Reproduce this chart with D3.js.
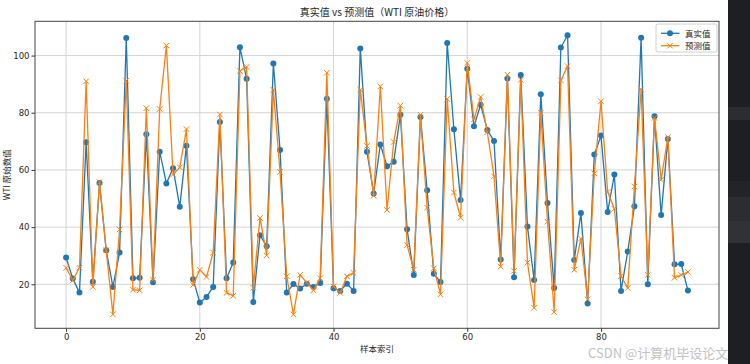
<!DOCTYPE html>
<html>
<head>
<meta charset="utf-8">
<script src="https://cdn.jsdelivr.net/npm/d3@7"></script>
<style>
  html, body { margin: 0; padding: 0; background: #fff; }
  svg { display: block; }
  text { font-family: "Noto Sans CJK SC", "DejaVu Sans", sans-serif; fill: #262626; }
  .tick text { font-family: "DejaVu Sans", sans-serif; }
</style>
</head>
<body>
<svg id="chart" width="750" height="364"></svg>
<script>
var actualValues = [29.4, 22.0, 17.1, 69.7, 20.9, 55.4, 31.9, 19.1, 31.1, 106.1,
  22.1, 22.3, 72.5, 20.7, 66.4, 55.3, 60.6, 47.1, 68.5, 21.8,
  13.6, 15.6, 19.1, 76.8, 22.1, 27.6, 102.9, 91.9, 13.8, 37.2,
  33.3, 97.2, 67.0, 17.1, 20.1, 18.5, 20.2, 19.1, 20.5, 84.9,
  18.6, 17.7, 20.2, 17.7, 102.5, 66.4, 51.8, 68.9, 61.3, 62.9,
  79.3, 39.3, 23.3, 78.5, 52.9, 23.7, 20.8, 104.4, 74.2, 49.5,
  95.4, 75.3, 82.8, 74.0, 70.1, 28.7, 92.0, 22.5, 93.2, 40.2,
  21.5, 86.5, 48.4, 18.7, 102.8, 107.1, 28.5, 44.9, 13.3, 65.4,
  72.0, 45.3, 58.4, 17.7, 31.5, 47.3, 106.2, 20.0, 78.8, 44.2,
  70.8, 27.0, 27.1, 17.8];

var predictedValues = [25.8, 21.4, 25.8, 91.0, 19.1, 55.7, 31.9, 9.5, 39.2, 91.2,
  18.1, 17.9, 81.6, 21.6, 81.3, 103.5, 58.4, 60.9, 74.3, 19.8,
  25.1, 22.6, 31.1, 79.4, 17.0, 16.0, 94.6, 96.0, 18.8, 43.2,
  30.1, 88.0, 59.3, 22.8, 9.5, 23.3, 20.6, 17.9, 22.1, 94.0,
  19.3, 17.0, 22.8, 24.0, 88.1, 68.4, 51.0, 89.2, 46.0, 69.8,
  82.5, 33.7, 25.1, 79.3, 46.8, 25.6, 16.5, 84.8, 52.1, 43.3,
  97.4, 77.7, 85.5, 73.2, 57.8, 26.2, 93.3, 24.7, 91.5, 27.6,
  11.8, 80.0, 41.9, 10.3, 91.3, 96.3, 25.1, 36.0, 14.7, 58.8,
  84.0, 52.3, 46.4, 22.9, 18.7, 54.2, 88.2, 23.3, 78.2, 56.6,
  71.5, 22.3, 23.3, 24.3];

var seriesNames = ['真实值', '预测值'];
var xTicks = [0, 20, 40, 60, 80];
var yTicks = [20, 40, 60, 80, 100];
var chartTitle = '真实值 vs 预测值（WTI 原油价格）';
var xLabel = '样本索引';
var yLabel = 'WTI 原始数值';
var watermark = 'CSDN @计算机毕设论文';

var colors = ['#1f77b4', '#ff7f0e'];
var margin = { left: 35, right: 719, top: 21.3, bottom: 328.3 };

var svg = d3.select('#chart');

// matplotlib style 5% margins on both axes
var n = actualValues.length;
var xPad = (n - 1) * 0.05;
var allVals = actualValues.concat(predictedValues);
var yMin = d3.min(allVals), yMax = d3.max(allVals);
var yPad = (yMax - yMin) * 0.05;

var x = d3.scaleLinear()
  .domain([-xPad, n - 1 + xPad])
  .range([margin.left, margin.right]);

var y = d3.scaleLinear()
  .domain([yMin - yPad, yMax + yPad])
  .range([margin.bottom, margin.top]);

// grid
var grid = svg.append('g');
grid.selectAll('.gx')
  .data(xTicks)
  .enter().append('line')
  .attr('x1', function(d) { return x(d); })
  .attr('x2', function(d) { return x(d); })
  .attr('y1', margin.top)
  .attr('y2', margin.bottom)
  .attr('stroke', '#d4d4d4')
  .attr('stroke-width', 1);
grid.selectAll('.gy')
  .data(yTicks)
  .enter().append('line')
  .attr('x1', margin.left)
  .attr('x2', margin.right)
  .attr('y1', function(d) { return y(d); })
  .attr('y2', function(d) { return y(d); })
  .attr('stroke', '#d4d4d4')
  .attr('stroke-width', 1);

// series
var series = [actualValues, predictedValues];
var line = d3.line()
  .x(function(d, i) { return x(i); })
  .y(function(d) { return y(d); });

series.forEach(function(vals, k) {
  var g = svg.append('g');
  g.append('path')
    .datum(vals)
    .attr('d', line)
    .attr('fill', 'none')
    .attr('stroke', colors[k])
    .attr('stroke-width', 1.3)
    .attr('stroke-linejoin', 'round');

  if (k == 0) {
    g.selectAll('circle')
      .data(vals)
      .enter().append('circle')
      .attr('cx', function(d, i) { return x(i); })
      .attr('cy', function(d) { return y(d); })
      .attr('r', 3)
      .attr('fill', colors[k]);
  } else {
    g.selectAll('path.mk')
      .data(vals)
      .enter().append('path')
      .attr('class', 'mk')
      .attr('d', d3.symbol().type(d3.symbolX).size(22))
      .attr('transform', function(d, i) { return 'translate(' + x(i) + ',' + y(d) + ')'; })
      .attr('fill', 'none')
      .attr('stroke', colors[k])
      .attr('stroke-width', 1);
  }
});

// axes
var xAxis = svg.append('g')
  .attr('transform', 'translate(0,' + margin.bottom + ')')
  .call(d3.axisBottom(x).tickValues(xTicks).tickSize(3.5).tickPadding(2).tickFormat(d3.format('d')));
var yAxis = svg.append('g')
  .attr('transform', 'translate(' + margin.left + ',0)')
  .call(d3.axisLeft(y).tickValues(yTicks).tickSize(3.5).tickPadding(2).tickFormat(d3.format('d')));

[xAxis, yAxis].forEach(function(a) {
  a.select('.domain').remove();
  a.selectAll('.tick line').attr('stroke', '#333');
  a.selectAll('.tick text').attr('font-size', 8.5).attr('fill', '#262626');
});

svg.append('rect')
  .attr('x', margin.left)
  .attr('y', margin.top)
  .attr('width', margin.right - margin.left)
  .attr('height', margin.bottom - margin.top)
  .attr('fill', 'none')
  .attr('stroke', '#444')
  .attr('stroke-width', 1);

// labels
svg.append('text')
  .attr('x', (margin.left + margin.right) / 2)
  .attr('y', 16)
  .attr('text-anchor', 'middle')
  .attr('font-size', 10)
  .text(chartTitle);

svg.append('text')
  .attr('x', (margin.left + margin.right) / 2)
  .attr('y', 352)
  .attr('text-anchor', 'middle')
  .attr('font-size', 8.5)
  .text(xLabel);

svg.append('text')
  .attr('transform', 'translate(10,' + (margin.top + margin.bottom) / 2 + ') rotate(-90)')
  .attr('text-anchor', 'middle')
  .attr('font-size', 8.5)
  .text(yLabel);

// legend
var legend = svg.append('g').attr('transform', 'translate(656,24)');
legend.append('rect')
  .attr('width', 61)
  .attr('height', 28)
  .attr('rx', 2)
  .attr('fill', '#fff')
  .attr('fill-opacity', 0.8)
  .attr('stroke', '#d0d0d0')
  .attr('stroke-width', 1);

seriesNames.forEach(function(name, k) {
  var ly = 9.3 + k * 12.4;
  var row = legend.append('g');
  row.append('line')
    .attr('x1', 5).attr('x2', 23.5)
    .attr('y1', ly).attr('y2', ly)
    .attr('stroke', colors[k])
    .attr('stroke-width', 1.3);
  if (k == 0) {
    row.append('circle').attr('cx', 14).attr('cy', ly).attr('r', 3).attr('fill', colors[k]);
  } else {
    row.append('path')
      .attr('d', d3.symbol().type(d3.symbolX).size(22))
      .attr('transform', 'translate(14,' + ly + ')')
      .attr('fill', 'none')
      .attr('stroke', colors[k]);
  }
  row.append('text')
    .attr('x', 29)
    .attr('y', ly + 3.2)
    .attr('font-size', 8.5)
    .text(name);
});

// dark editor panel on the right edge of the screenshot
var panel = svg.append('g');
panel.append('rect').attr('x', 728).attr('y', 0).attr('width', 22).attr('height', 364).attr('fill', '#1e1f22');
panel.append('rect').attr('x', 728).attr('y', 107).attr('width', 22).attr('height', 13).attr('fill', '#2b2d30');
panel.append('rect').attr('x', 728).attr('y', 181).attr('width', 22).attr('height', 16).attr('fill', '#232427');
panel.append('rect').attr('x', 728).attr('y', 197).attr('width', 22).attr('height', 24).attr('fill', '#2b2d30');
panel.append('rect').attr('x', 728).attr('y', 221).attr('width', 22).attr('height', 22).attr('fill', '#303236');

svg.append('text')
  .attr('x', 588)
  .attr('y', 357.5)
  .attr('font-size', 13)
  .style('fill', '#c2c2c2')
  .text(watermark);
</script>
</body>
</html>
